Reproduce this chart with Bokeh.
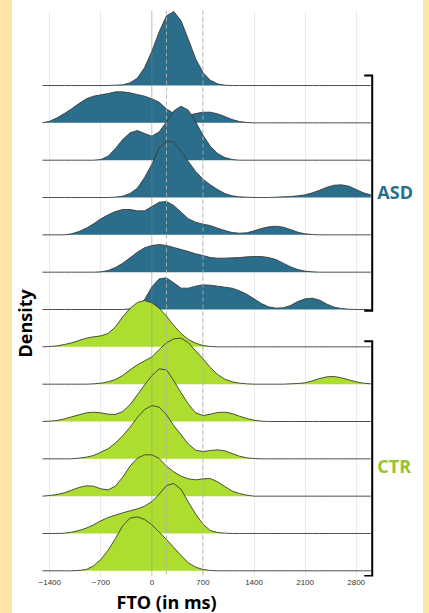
import numpy as np
from bokeh.plotting import figure
from bokeh.models import FixedTicker, Span, Title, GlobalInlineStyleSheet
from bokeh.embed import file_html
from bokeh.resources import INLINE
from bokeh.core.properties import value

# ---------------- data ----------------
x_ms = [-1500, -1400, -1300, -1200, -1100, -1000, -900, -800, -700, -600,
        -500, -400, -300, -200, -100, 0, 100, 200, 300, 400,
        500, 600, 700, 800, 900, 1000, 1100, 1200, 1300, 1400,
        1500, 1600, 1700, 1800, 1900, 2000, 2100, 2200, 2300, 2400,
        2500, 2600, 2700, 2800, 2900, 3000]

# density per participant (arbitrary units)
asd_1 = [0]*10 + [1, 2, 8, 22, 54, 103, 161, 209, 222, 194, 138, 80, 39, 16, 5, 1] + [0]*20
asd_2 = [0, 5, 15, 28, 42, 58, 72, 80, 84, 88, 93, 93, 90, 85, 80, 72, 62, 42, 28, 20,
         23, 28, 32, 32, 27, 19, 10, 4, 1] + [0]*17
asd_3 = [0]*8 + [2, 12, 35, 62, 82, 89, 80, 72, 85, 115, 148, 162, 150, 115, 75, 42, 20, 8, 2] + [0]*19
asd_4 = [0]*10 + [1, 4, 12, 28, 60, 100, 148, 170, 166, 138, 108, 78, 55, 38, 24, 12, 5, 2, 1,
                  0, 0, 0, 1, 2, 3, 5, 8, 14, 22, 31, 37, 38, 34, 24, 14, 8]
asd_5 = [0]*4 + [3, 10, 20, 33, 48, 60, 70, 76, 76, 72, 72, 85, 98, 100, 88, 68, 48, 38, 32, 28,
                 20, 13, 7, 5, 6, 12, 19, 24, 26, 23, 16, 8, 3, 1] + [0]*8
asd_6 = [0]*8 + [1, 5, 14, 27, 43, 60, 73, 80, 83, 80, 74, 68, 62, 55, 50, 44, 42, 42, 43, 44,
                 46, 47, 47, 44, 38, 27, 16, 8, 3, 1] + [0]*8
asd_7 = [0]*12 + [2, 8, 30, 68, 92, 95, 80, 64, 64, 70, 74, 73, 70, 67, 64, 56, 46, 32, 18, 8,
                  4, 5, 12, 24, 32, 34, 28, 16, 7, 3, 1] + [0]*3
ctr_1 = [0, 1, 3, 7, 12, 19, 26, 30, 33, 40, 60, 90, 115, 133, 139, 132, 116, 92, 64, 40,
         22, 11, 4, 1] + [0]*22
ctr_2 = [0]*7 + [1, 3, 7, 14, 26, 43, 58, 70, 82, 104, 124, 136, 138, 124, 100, 76, 50, 29, 15,
                 7, 3, 1, 0, 0, 0, 0, 0, 1, 2, 4, 10, 17, 22, 23, 19, 13, 7, 3, 1]
ctr_3 = [0, 1, 3, 8, 14, 20, 26, 28, 26, 22, 21, 30, 50, 80, 110, 138, 158, 155, 122, 86,
         52, 26, 18, 22, 27, 28, 24, 16, 9, 4, 1] + [0]*15
ctr_4 = [0]*5 + [2, 5, 10, 20, 30, 48, 69, 95, 124, 148, 160, 155, 132, 100, 72, 44, 26, 22, 25,
                 27, 24, 16, 8, 3, 1] + [0]*16
ctr_5 = [0, 2, 5, 10, 18, 26, 31, 30, 22, 19, 30, 57, 90, 114, 124, 124, 113, 90, 73, 60,
         52, 49, 52, 53, 43, 29, 15, 8, 3] + [0]*17
ctr_6 = [0]*3 + [1, 4, 9, 16, 26, 38, 48, 55, 62, 68, 74, 82, 96, 118, 144, 150, 132, 94, 58,
                 28, 9, 3, 1] + [0]*20
ctr_7 = [0]*5 + [1, 4, 15, 34, 62, 97, 135, 158, 162, 154, 138, 116, 94, 70, 46, 24, 11, 4, 1] + [0]*22

groups = ["ASD"] * 7 + ["CTR"] * 7
ridges = [asd_1, asd_2, asd_3, asd_4, asd_5, asd_6, asd_7,
          ctr_1, ctr_2, ctr_3, ctr_4, ctr_5, ctr_6, ctr_7]

tick_values = [-1400, -700, 0, 700, 1400, 2100, 2800]
tick_labels = ["\u22121400", "\u2212700", "0", "700", "1400", "2100", "2800"]
ref_dotted = [0]
ref_dashed = [200, 700]

# ---------------- styling ----------------
SCALE = 1 / 112.0          # density units -> row spacing
BLUE = "#2B6E8B"
GREEN = "#ADDE2F"
GREEN_TXT = "#96C32B"
CREAM = "#FEE4AB"
fill_of = {"ASD": BLUE, "CTR": GREEN}
FONT = "Open Sans"

p = figure(width=411, height=613, x_range=(-1554.6, 3723), y_range=(-0.152, 15.01),
           output_backend="svg", toolbar_location=None,
           x_axis_location="below", y_axis_location=None,
           min_border_left=25, min_border_right=0, min_border_top=10, min_border_bottom=37)
p.stylesheets = [GlobalInlineStyleSheet(css=(
    "html,body{margin:0 !important;padding:0;}"
    "body{padding-left:12px !important;min-height:100vh;"
    f"background:linear-gradient(to right,{CREAM} 0px,{CREAM} 12px,#ffffff 12px,"
    f"#ffffff 423px,{CREAM} 423px) !important;}}"))]
p.outline_line_color = None
p.background_fill_color = "white"
p.border_fill_color = "white"

p.xgrid.ticker = FixedTicker(ticks=tick_values)
p.xgrid.grid_line_color = "#EBEBEB"
p.xgrid.grid_line_width = 1
p.ygrid.visible = False

ax = p.xaxis[0]
ax.ticker = FixedTicker(ticks=tick_values)
ax.major_label_overrides = {v: t for v, t in zip(tick_values, tick_labels)}
ax.axis_line_color = None
ax.major_tick_line_color = None
ax.minor_tick_line_color = None
ax.major_tick_out = 0
ax.major_label_standoff = 3
ax.major_label_text_font = "Liberation Sans"
ax.major_label_text_font_size = "8px"
ax.major_label_text_color = "#333333"

n = len(ridges)
xs = np.array(x_ms, dtype=float)
for i, (arr, g) in enumerate(zip(ridges, groups)):
    base = float(n - 1 - i)
    top = base + np.array(arr, dtype=float) * SCALE
    p.varea(x=xs, y1=np.full_like(xs, base), y2=top, fill_color=fill_of[g])
    p.line(xs, top, line_color="#3a3a3a", line_width=0.9)

for v in ref_dotted:
    p.add_layout(Span(location=v, dimension="height", line_color="#8a8a8a",
                      line_width=0.8, line_dash="1 1"))
for v in ref_dashed:
    p.add_layout(Span(location=v, dimension="height", line_color="#b0b0b0",
                      line_width=1, line_dash="4 3", line_alpha=0.9))

# group brackets and labels
bx, btick = 3020, 2910
for g, pad_top, pad_bot, ly, col in [("ASD", 0.27, -0.03, 10.14, BLUE),
                                      ("CTR", 0.15, -0.14, 2.82, GREEN_TXT)]:
    rows = [n - 1 - i for i, gg in enumerate(groups) if gg == g]
    ytop, ybot = max(rows) + pad_top, min(rows) + pad_bot
    p.line([btick, bx, bx, btick], [ytop, ytop, ybot, ybot], line_color="black",
           line_width=2, line_join="miter")
    p.text(x=[3090], y=[ly], text=[g], text_font=value(FONT), text_font_style="bold",
           text_font_size="18px", text_color=col, text_align="left", text_baseline="middle")

p.add_layout(Title(text="FTO (in ms)", align="left", offset=78, standoff=0,
                   text_font=FONT, text_font_style="bold", text_font_size="18px",
                   text_color="black"), "below")
p.add_layout(Title(text="Density", align="left", offset=219, standoff=0,
                   vertical_align="top",
                   text_font=FONT, text_font_style="bold", text_font_size="18px",
                   text_color="black"), "left")

open("out.html", "w").write(file_html(p, INLINE))
